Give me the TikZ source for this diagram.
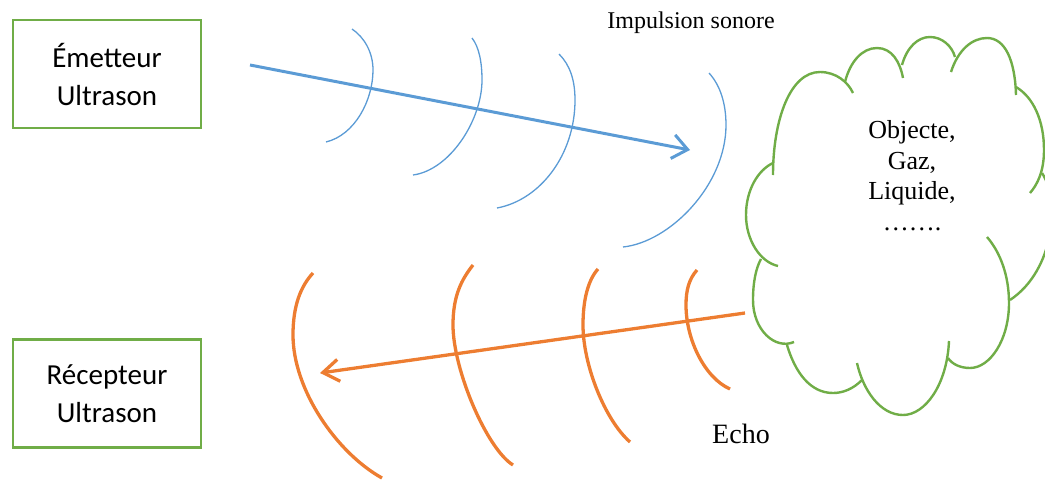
\documentclass[tikz,border=0pt]{standalone}
\usepackage{fontspec}
\setmainfont{Liberation Serif}
\newfontfamily\calib{Carlito}
\usetikzlibrary{arrows.meta}
\definecolor{myblue}{HTML}{5B9BD5}
\definecolor{myorange}{HTML}{ED7D31}
\definecolor{mygreen}{HTML}{70AD47}
\begin{document}
\begin{tikzpicture}[x=1pt,y=-1pt,
  box/.style={draw=mygreen,line width=2.2pt,minimum width=188pt,minimum height=108pt,
    align=center,inner sep=0pt,font=\calib\fontsize{29}{38}\selectfont},
  bluewave/.style={draw=myblue,line width=1.3pt},
  orangewave/.style={draw=myorange,line width=3.3pt},
  lobe/.style={draw=mygreen,line width=2.4pt},
  bluearrow/.style={draw=myblue,line width=3pt,-{Straight Barb[length=15pt,width=24pt]}},
  orangearrow/.style={draw=myorange,line width=3.3pt,-{Straight Barb[length=16pt,width=22pt]}},
  lbl/.style={inner sep=0pt,anchor=base}]
\useasboundingbox (0,0) rectangle (1045,480);

% boxes
\node[box] (emit) at (107,74) {Émetteur\\Ultrason};
\node[box] (recv) at (107,393.5) {Récepteur\\Ultrason};

% labels
\node[lbl,font=\fontsize{24}{28}\selectfont] (imp) at (691,28) {Impulsion sonore};
\node[lbl,font=\fontsize{28}{32}\selectfont] (echo) at (741,443) {Echo};

% blue wave fronts
\draw[bluewave] (352,29) .. controls (364,37) and (373,52) .. (373,70)
                         .. controls (373,100) and (355,135) .. (326,142);
\draw[bluewave] (472,38) .. controls (479,47) and (482,62) .. (482,80)
                         .. controls (482,120) and (450,170) .. (413,175);
\draw[bluewave] (559,54) .. controls (570,65) and (575,80) .. (575,100)
                         .. controls (575,155) and (540,200) .. (497,208);
\draw[bluewave] (709,73) .. controls (720,85) and (726,103) .. (726,125)
                         .. controls (726,185) and (670,242) .. (623,247);

% orange wave fronts
\draw[orangewave] (313,273) .. controls (301,286) and (293,305) .. (293,335)
                            .. controls (293,390) and (337,453) .. (382,478);
\draw[orangewave] (473,265) .. controls (462,279) and (453,295) .. (453,325)
                            .. controls (453,370) and (487,449) .. (513,465);
\draw[orangewave] (598,269) .. controls (588,280) and (583,300) .. (583,325)
                            .. controls (583,365) and (605,420) .. (630,442);
\draw[orangewave] (697,270) .. controls (689,279) and (686,290) .. (686,305)
                            .. controls (686,340) and (705,378) .. (730,389);

% cloud
\coordinate (cloud) at (895,225);
\draw[lobe] (773,175) .. controls (773,120) and (790,72) .. (820,72)
                      .. controls (836,72) and (848,82) .. (853,93);
\draw[lobe] (845,82) .. controls (850,62) and (862,48) .. (877,48)
                     .. controls (892,48) and (900,62) .. (903,78);
\draw[lobe] (902,65) .. controls (907,47) and (918,37) .. (930,37)
                     .. controls (942,37) and (952,46) .. (955,57);
\draw[lobe] (951,72) .. controls (958,50) and (972,38) .. (987,38)
                     .. controls (1005,38) and (1015,60) .. (1016,95);
\draw[lobe] (1016,87) .. controls (1033,97) and (1044,120) .. (1044,150)
                      .. controls (1044,172) and (1037,185) .. (1030,193);
\draw[lobe] (1042,173) .. controls (1060,200) and (1055,270) .. (1010,300);
\draw[lobe] (987,237) .. controls (1000,252) and (1009,275) .. (1009,303)
                      .. controls (1009,340) and (990,368) .. (970,368)
                      .. controls (960,368) and (952,364) .. (948,358);
\draw[lobe] (949,341) .. controls (947,385) and (925,415) .. (903,415)
                      .. controls (880,415) and (863,390) .. (857,363);
\draw[lobe] (862,380) .. controls (853,389) and (843,393) .. (833,393)
                      .. controls (810,393) and (795,372) .. (787,345);
\draw[lobe] (794,342) .. controls (775,350) and (753,330) .. (753,300)
                      .. controls (753,282) and (756,268) .. (761,259);
\draw[lobe] (778,266) .. controls (760,262) and (746,240) .. (746,215)
                      .. controls (746,190) and (758,170) .. (773,163);

\node[lbl,align=center,font=\fontsize{26}{30.5}\selectfont] (ctext) at (912,230) {Objecte,\\Gaz,\\Liquide,\\…….};

% arrows
\coordinate (b0) at (250,65);
\coordinate (b1) at (690,150);
\draw[bluearrow] (b0) -- (b1);
\coordinate (o0) at (745,313);
\coordinate (o1) at (320,373);
\draw[orangearrow] (o0) -- (o1);
\end{tikzpicture}
\end{document}
